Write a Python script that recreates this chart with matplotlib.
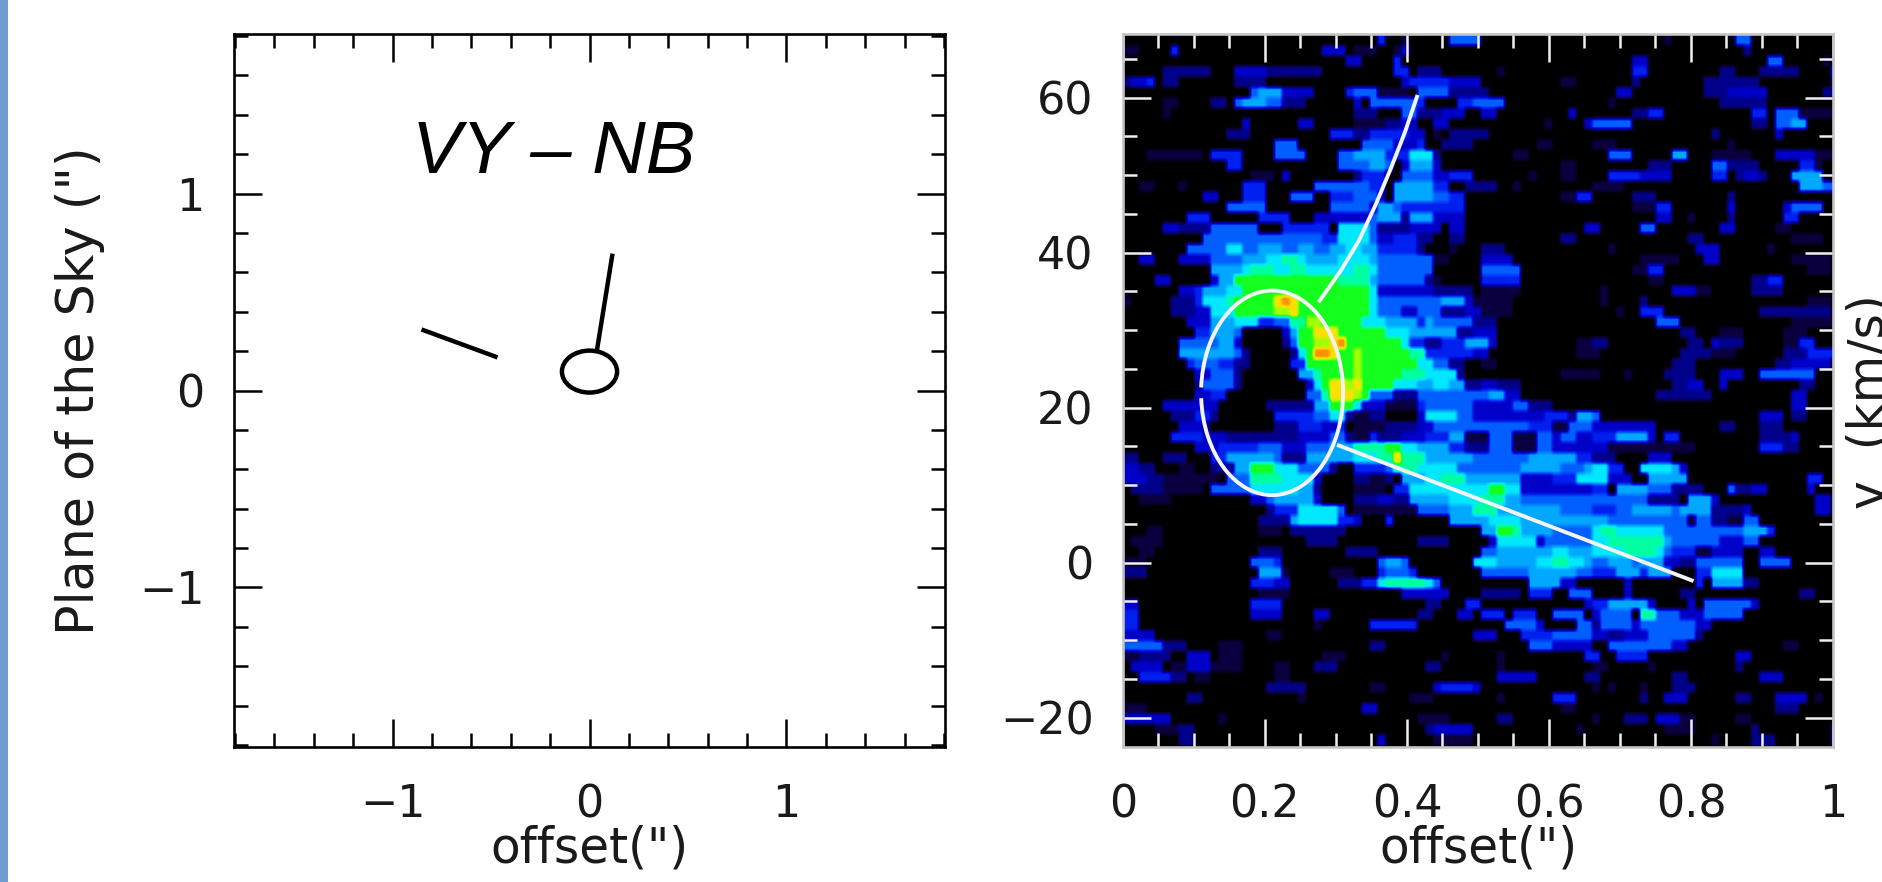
import matplotlib
matplotlib.use('Agg')
import matplotlib.pyplot as plt
import numpy as np
from matplotlib.colors import LinearSegmentedColormap
from matplotlib.patches import Arc, Ellipse, Rectangle
from matplotlib.ticker import MultipleLocator

# position-velocity cut, one string per velocity row (top to bottom), levels 0-c, grouped by ten columns
pv_rows = [
    "0000000000 0000000000 0000000000 0004001000 0055550000 0000000000 0000000001 0000000055 0000000000 0",
    "0110000400 0000000000 0000003330 1110013000 0000000000 0000000000 0000000000 0000000002 0000000000 0",
    "0000000000 0000000000 0000000003 3000040000 0000000000 0000000000 0000033000 0000000000 0055000001 0",
    "0000002222 2200033332 2222220000 0000044022 2000000010 0000000000 0000044000 0000002200 0222220000 3",
    "0233402200 0000022220 0000000000 0000003444 4433330000 0000001100 0000020000 0000222222 2000000000 2",
    "0000000000 0000000566 6333300004 5551111055 5522222000 0000000000 0003300000 0000222333 3300000002 2",
    "0000001100 0022056665 5222000000 3055555540 0004455550 0000000000 0010000000 0000002222 2200000000 0",
    "0000001000 0000000000 0000000000 2220005522 2333003300 0000000300 0000022440 0000000000 4405551111 1",
    "0000000000 0000003000 0003300000 1111223300 3300000000 0000100003 5555500000 0000000000 2205566000 0",
    "0000000000 0000222000 0000000444 2244444330 1022222000 0000000000 0000000000 0000020000 0003000000 0",
    "0000000000 0000000000 5550000000 0555533340 0222200000 0001100000 1110000000 0000000100 0000000000 0",
    "0000111111 1044440000 5555000055 6666444777 2000000000 1100000000 0055500000 6600011111 0003333311 1",
    "0000000000 0000440000 0000000055 5566503666 3000000000 0000001100 0000000222 0000055222 2000004410 0",
    "0000000000 0000000111 0300000000 2444005555 3344400000 0010001100 0044443333 0000044023 3200066660 0",
    "0001100010 0000004440 0000055555 5544066666 4400222200 1000000000 1111000000 0000000000 0000006665 5",
    "0000000000 0330004440 0055500444 5553066666 5544000000 0000001144 0000022200 0000000200 0000000000 0",
    "0000000000 0000555550 0000000555 5536654444 4444000000 0000000000 0000011144 0000000300 0000355550 0",
    "0000000004 4400000044 4400033333 3356662666 3333000000 0000000000 0000000033 0010000200 0000440000 0",
    "0000003322 2255555500 0444444077 7752222333 3033000000 0000000003 3000005500 0000003300 0001100000 0",
    "0000000000 0555555555 5555554477 7753344422 0022000000 0000002200 0000000000 0022000000 0000011110 0",
    "0000000005 5555775566 6556655667 7664444420 0010002220 0000000000 0010000000 0003330000 0010000000 0",
    "0003300033 3355556667 7887666677 7765555555 1100003333 0000000000 0000001111 1000330000 0000011111 0",
    "0000000000 0066667888 7788777777 8875555555 0000005555 5000000000 0000011440 0000000000 0000000111 0",
    "0000033000 0036699999 9999999988 8865555552 1000004444 4000000000 0000000110 0000000000 2244000000 0",
    "0000000033 4666779999 9999999999 9973333333 2222201111 1000000000 0100000000 3331100000 2222000000 0",
    "0100000222 4777899999 bcb9999999 9975555555 5666311111 0000000000 0100002000 0000000000 0000000111 0",
    "0000000222 3377799999 aab9999999 9975553355 5222331111 0000000000 0001004440 0000000000 0222222222 0",
    "0000000003 3366677744 5588aa9999 9777666646 5555522200 0000000000 0000000055 5000000000 0000011111 1",
    "0000000000 4466650000 03699bbb99 9999777666 6662233300 0000000000 0000000000 0220001110 0000111000 0",
    "0000000055 5556630000 02599aabc9 9999997442 2444666300 0000000011 2200000000 0022032220 0000114400 0",
    "0000000066 6666652000 00279ccb99 a999999884 4444433000 0000000011 1000000000 0222211100 0000222444 4",
    "0000000004 5554422000 0044999999 a999999977 5522001100 0000000000 0000000000 2220000000 0002233333 0",
    "0000000000 3355520000 0006689999 a999998887 7772000000 0000001111 1000100002 2220003330 0555555500 0",
    "0000000000 2555520000 000037 9bba b999977766 7766223322 2000000000 0000000000 2233003000 0000002200 0",
    "0000000000 3344000000 0000558bbb a955522255 5555555663 3000000000 0000000022 2222200000 0000033000 0",
    "0000003333 3330000002 2222266999 7333111145 5555533333 5522200000 0000000000 0000000000 0000033000 0",
    "0000000222 4420000000 4444455772 1122000037 7775533333 3333444266 5000000000 0000000000 0333022000 0",
    "0000000033 3200000000 2224443340 1111222233 5555555555 5544411555 3333333300 0000002200 0222000000 0",
    "0000000444 4333222222 2223333552 1142223334 4466111555 1115535533 4446666304 4000000000 0222230000 0",
    "0000000000 3334444455 5333555666 8888997766 6644222555 1115533333 3311111111 1110000000 0444220000 0",
    "0220002220 0044666666 5222666666 77788b8886 6666655555 5566666644 2220000333 0000000000 0000000000 0",
    "0332200011 0022266999 7775555200 4444588877 7775555555 5666665556 7744007777 6300000000 0000000000 0",
    "0333221111 1110555888 8777730000 2211206667 7888666666 6333344477 7733300666 6600000000 0000000440 0",
    "0022221111 1055555777 7776620000 1111044777 7777777997 7333333333 4406666555 2222000522 3300000300 0",
    "0001111000 0000000335 6666630000 2223322666 6677778886 6555555555 5555555222 2066630000 0000000033 0",
    "0000000000 0000000002 4447777750 1111111155 5566688866 6666665555 4445566666 5666622223 0000000033 0",
    "0000000000 0000000022 2267777744 3000400000 0066666777 7666666666 6655555555 5515522115 5000000000 0",
    "0000110000 0000000011 1022222220 0000000000 0000006699 8666655555 7887777775 5555555556 6640000000 0",
    "0011110000 0000000000 0000222200 0000000022 2200000377 7773555555 7788888886 5555553335 5000000000 0",
    "0001100000 0000000022 2000000002 2220000000 0000005566 6666677666 7777888875 4441133330 0330000000 0",
    "0111000000 0000000555 4000000000 0005665000 0000077766 6667788776 5566656663 3225555550 0555500000 0",
    "0222000000 0000000066 6100000111 0004555400 0000005555 5566666655 4446664666 0004477770 0000000000 0",
    "0000000000 0000000444 3300000022 2447888887 5000000000 0066663300 0000300000 0004066662 2000000000 0",
    "0000000000 0000000011 1100000000 0000003333 3300002222 2044400555 0000300000 0220000000 0000002200 0",
    "0330000000 0000000444 4000000000 0000000002 2000440000 0000000003 4466666300 0030555555 3000000000 0",
    "0440000000 0000000333 3000033000 0000000022 0003304440 4440055550 3555508855 5333555550 0000000000 0",
    "0440000000 0000000000 0000010000 0044444400 0000000005 5553000055 2555535555 5553300000 0000000000 0",
    "0333300000 0000000001 1000000000 0000000000 0000033300 0444455555 3322333555 5552000000 0000000000 0",
    "0555552220 0001110000 0000000000 0022000000 0000000000 0055533333 0055555555 3300000000 0000110000 0",
    "0112222003 3301110000 0000001110 0000000000 0100000010 0000000004 4004444000 0000000033 0000000000 0",
    "0033330113 3311110000 1100022200 0000000002 2000000010 0000000000 1100000100 0000000020 0000000000 0",
    "0004444220 1100000000 1100000000 0000000000 0000000033 3330000002 2000000000 2200000000 0333000000 0",
    "0000000000 0000000002 2222000000 0011000000 3444430000 0000000000 1010001000 2220000000 0000000000 0",
    "0000000002 2000000000 0001000000 0000000111 0000000010 0000044400 0000002003 3300000022 0003333010 0",
    "0111000000 0000000000 0000000000 0330000000 0000000000 0000001100 0000000000 0000000000 0002220000 0",
    "0333333000 0001000000 0000000000 0000000011 1100000022 0000000000 1000222033 3110000011 0000000000 0",
    "0000011122 0000000000 0000000000 0000000002 3333300000 0000000010 0000000001 1110000000 2000000000 2",
    "0000000022 0000000000 0000000000 0003000000 1111100000 0000000000 0000000000 0000010000 2220000000 2",
]
pv_colors = ['#000000', '#0c0040', '#00008c', '#0000c8', '#0020f0', '#0060ff', '#00a8ff',
             '#00e8ff', '#00ffa0', '#10ff20', '#a0ff00', '#ffe000', '#ff9000']

# extent of the cut in offset and velocity
pv_x = [-0.0113, 1.0081]
pv_y = [-23.6, 68.0]

# left panel
sky_ticks = [-1, 0, 1]
line_a_x = [-0.853, -0.467]
line_a_y = [0.310, 0.168]
line_b_x = [0.117, 0.036]
line_b_y = [0.695, 0.193]
blob_center = (0.0, 0.096)
blob_w, blob_h = 0.28, 0.213

# right panel overlays
curve_x = [0.414, 0.397, 0.377, 0.356, 0.332, 0.307, 0.277]
curve_y = [60.1, 55.5, 50.8, 46.2, 41.5, 37.7, 33.8]
straight_x = [0.304, 0.801]
straight_y = [15.1, -2.3]
ring_center = (0.21, 21.9)
ring_w, ring_h = 0.20, 26.4
ring_gap = [183, 177]
off_ticks = [0, 0.2, 0.4, 0.6, 0.8, 1]
off_labels = ['0', '0.2', '0.4', '0.6', '0.8', '1']
vel_ticks = [-20, 0, 20, 40, 60]

W, H = 1883, 882
FONT = 'DejaVu Sans'
INK = '#1a1a1a'


def px_axes(fig, x0, y0, x1, y1):
    return fig.add_axes([x0 / W, 1 - y1 / H, (x1 - x0) / W, (y1 - y0) / H])


def style_ticks(ax, color):
    ax.tick_params(which='major', direction='in', top=True, right=True, length=20, width=1.8, color=color)
    ax.tick_params(which='minor', direction='in', top=True, right=True, length=10, width=1.8, color=color)
    ax.tick_params(axis='x', pad=26, labelsize=32, labelcolor=INK)
    ax.tick_params(axis='y', pad=21, labelsize=32, labelcolor=INK)


def ring_angle(t):
    # Arc stretches its angles by the data aspect, undo that so the gap lands where it should
    t = np.deg2rad(t)
    return np.rad2deg(np.arctan2(ring_h * np.sin(t), ring_w * np.cos(t)))


plt.rcParams['font.family'] = FONT
fig = plt.figure(figsize=(W / 100, H / 100), dpi=100)
fig.add_artist(Rectangle((0, 0), 8 / W, 1, transform=fig.transFigure, color='#6f9bd1', lw=0))

# 左图
ax1 = px_axes(fig, 234, 34, 945, 747)
ax1.set_xlim(-1.805, 1.805)
ax1.set_ylim(-1.81, 1.81)
ax1.plot(line_a_x, line_a_y, color='k', lw=3.2, solid_capstyle='butt')
ax1.plot(line_b_x, line_b_y, color='k', lw=3.2, solid_capstyle='butt')
ax1.add_patch(Ellipse(blob_center, blob_w, blob_h, fill=False, ec='k', lw=3.2))
ax1.set_xticks(sky_ticks)
ax1.set_yticks(sky_ticks)
ax1.xaxis.set_minor_locator(MultipleLocator(0.2))
ax1.yaxis.set_minor_locator(MultipleLocator(0.2))
style_ticks(ax1, 'k')
for s in ax1.spines.values():
    s.set_linewidth(1.9)
ax1.text(-0.90, 1.105, 'VY – NB', family='Liberation Sans', style='italic', fontsize=53.5, color='k')
ax1.set_xlabel('offset(")', fontsize=35, labelpad=-1, color=INK)
ax1.set_ylabel('Plane of the Sky (")', fontsize=36.5, labelpad=25, color=INK)

# 右图
ax2 = px_axes(fig, 1123, 34, 1833, 747)
grid = np.array([[int(c, 16) for c in r.replace(' ', '')] for r in pv_rows], dtype=float)
fine = np.repeat(np.repeat(grid, 2, axis=0), 2, axis=1)
cmap = LinearSegmentedColormap.from_list('pv', pv_colors, N=256)
ax2.imshow(fine, cmap=cmap, vmin=0, vmax=12, extent=[pv_x[0], pv_x[1], pv_y[0], pv_y[1]],
           aspect='auto', interpolation='bilinear', zorder=1)
ax2.set_facecolor('k')
ax2.plot(curve_x, curve_y, color='#f4f4f8', lw=2.8, zorder=3)
ax2.plot(straight_x, straight_y, color='#f4f4f8', lw=2.8, zorder=3)
ax2.add_patch(Arc(ring_center, ring_w, ring_h, theta1=ring_angle(ring_gap[0]), theta2=ring_angle(ring_gap[1]),
                  color='#f4f4f8', lw=2.8, zorder=3))
ax2.set_xlim(0, 1)
ax2.set_ylim(-23.8, 68.2)
ax2.set_xticks(off_ticks)
ax2.set_xticklabels(off_labels)
ax2.set_yticks(vel_ticks)
ax2.xaxis.set_minor_locator(MultipleLocator(0.05))
ax2.yaxis.set_minor_locator(MultipleLocator(5))
style_ticks(ax2, '#f0f0f0')
for s in ax2.spines.values():
    s.set_linewidth(1.9)
    s.set_color('#c4c4c4')
ax2.set_xlabel('offset(")', fontsize=35, labelpad=-1, color=INK)
fig.text(1846 / W, 1 - 402 / H, 'v  (km/s)', fontsize=35, rotation=90, ha='left', va='center', color=INK)

fig.savefig('out.png', dpi=100)
